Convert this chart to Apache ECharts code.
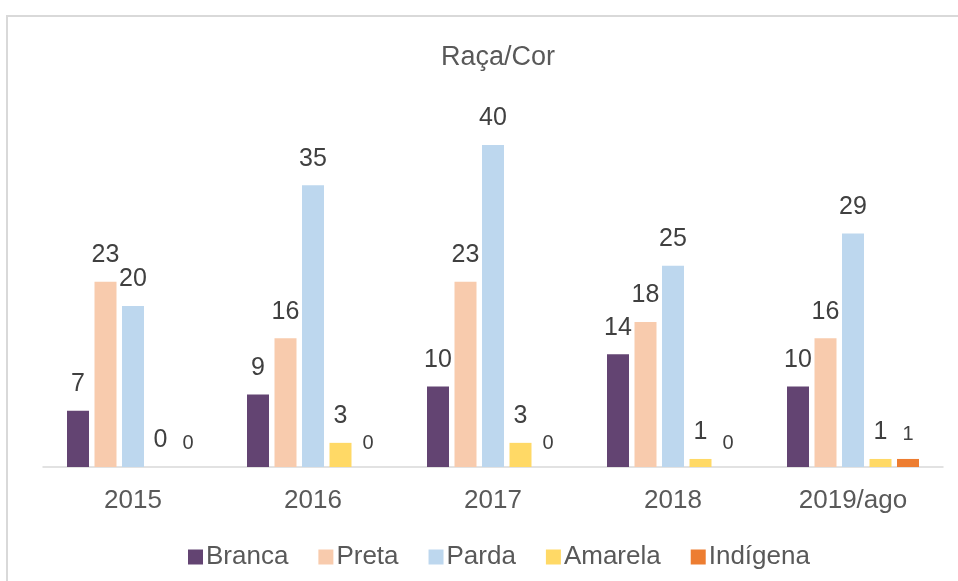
<!DOCTYPE html>
<html><head><meta charset="utf-8">
<script src="https://cdn.jsdelivr.net/npm/echarts@6/dist/echarts.min.js"></script>
<style>html,body{margin:0;padding:0;background:#fff}#c{width:958px;height:581px}</style>
</head><body><div id="c"></div>
<script>
const categories = ['2015','2016','2017','2018','2019/ago'];
const branca = [7, 9, 10, 14, 10];
const preta = [23, 16, 23, 18, 16];
const parda = [20, 35, 40, 25, 29];
const amarela = [0, 3, 3, 1, 1];
const indigena = [0, 0, 0, 0, 1];
const seriesNames = ['Branca','Preta','Parda','Amarela','Indígena'];
const colors = ['#634472','#f8cbad','#bdd7ee','#ffd966','#ed7d31'];
const allData = [branca, preta, parda, amarela, indigena];
const font = 'Liberation Sans, Arial, sans-serif';
const chart = echarts.init(document.getElementById('c'));
chart.setOption({
  animation: false,
  backgroundColor: '#fff',
  graphic: [{type:'rect', shape:{x:7,y:16,width:1000,height:600}, style:{fill:'none', stroke:'#d9d9d9', lineWidth:2}, silent:true}],
  title: {text:'Raça/Cor', left:436, top:39, textStyle:{fontFamily:font, fontSize:27, fontWeight:'normal', color:'#595959'}},
  legend: {top:539, left:183, itemWidth:15, itemHeight:15, itemGap:30, icon:'rect',
    textStyle:{fontFamily:font, fontSize:26, color:'#595959', padding:[0,0,0,-2]}},
  grid: {left:43, right:15, top:145, bottom:114},
  xAxis: {type:'category', data:categories, axisTick:{show:false},
    axisLine:{lineStyle:{color:'#d9d9d9', width:1.5}},
    axisLabel:{fontFamily:font, fontSize:26, color:'#595959', margin:21}},
  yAxis: {type:'value', min:0, max:40, show:false, splitLine:{show:false}},
  series: allData.map((d,i)=>({
    name: seriesNames[i], type:'bar', data:d, barWidth:22,
    barGap:'25%', barCategoryGap:'27%',
    itemStyle:{color:colors[i]},
    label:{show:true, position:'top', distance: 14, fontFamily:font,
      fontSize: i===4 ? 20 : 25, color:'#404040'}
  }))
});
</script></body></html>
